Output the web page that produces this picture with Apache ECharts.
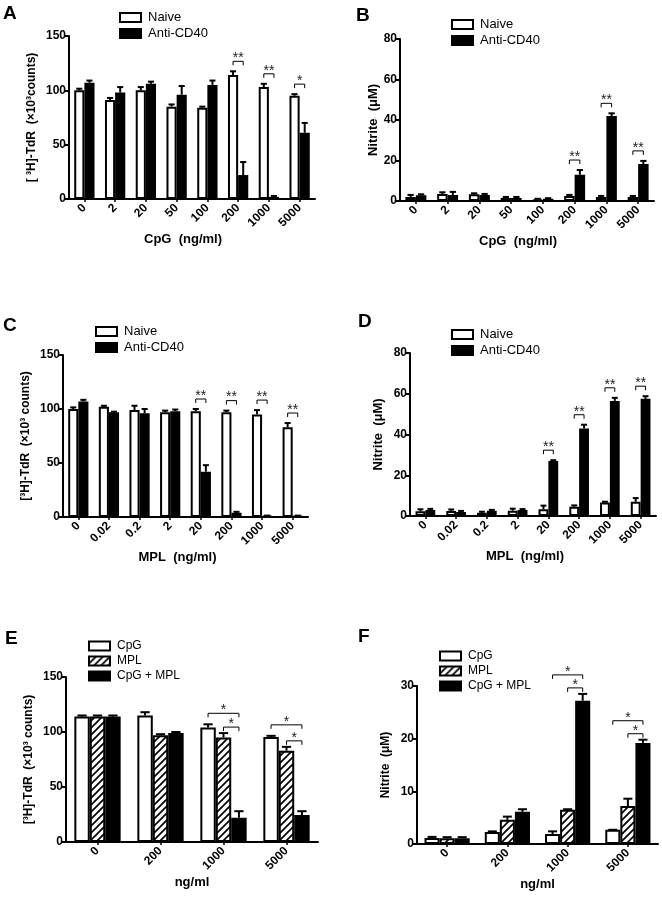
<!DOCTYPE html>
<html><head><meta charset="utf-8">
<script src="https://cdn.jsdelivr.net/npm/echarts@6/dist/echarts.min.js"></script>
<style>html,body{margin:0;padding:0;background:#fff}#c{width:662px;height:900px}</style>
</head><body><div id="c"></div>
<script>
// ---------- data ----------
const catsCpG = ['0','2','20','50','100','200','1000','5000'];
const catsMPL = ['0','0.02','0.2','2','20','200','1000','5000'];
const catsCombo = ['0','200','1000','5000'];

const A_naive    = [100, 91, 100, 85, 84, 114, 103, 95];
const A_naiveErr = [1.5, 2, 3, 2, 1, 3.5, 3, 1.5];
const A_anti     = [107, 98, 106, 96, 105, 22, 2, 61];
const A_antiErr  = [2, 5, 2, 8, 4, 12, 0.8, 9];

const B_naive    = [2, 3.5, 3.3, 1.5, 0.8, 2.5, 2, 2];
const B_naiveErr = [1, 0.8, 0.5, 0.5, 0.3, 0.5, 0.5, 0.5];
const B_anti     = [2.8, 3, 3, 1.5, 1.1, 13, 42, 18.3];
const B_antiErr  = [0.5, 1.5, 0.5, 0.5, 0.3, 2.3, 1.3, 1.5];

const C_naive    = [100, 102, 99, 97, 98, 97, 95, 83];
const C_naiveErr = [1.5, 1, 4, 1.5, 2, 1.5, 4, 4];
const C_anti     = [107, 97, 96, 98, 42, 4, 1, 1];
const C_antiErr  = [1.5, 0.5, 4, 1.5, 6, 0.8, 0.3, 0.3];

const D_naive    = [2.3, 2.4, 1.6, 2.6, 3.3, 4.6, 6.6, 7];
const D_naiveErr = [1, 0.8, 0.5, 1, 1.8, 0.6, 0.4, 1.8];
const D_anti     = [3, 2, 2.6, 3, 27, 43, 56.5, 57.5];
const D_antiErr  = [0.5, 0.5, 0.4, 0.4, 0.4, 1.8, 1.5, 1.3];

const E_cpg      = [114, 115, 104, 95.5];
const E_cpgErr   = [1, 3, 3, 1];
const E_mpl      = [114, 97, 95, 83];
const E_mplErr   = [1, 1, 4, 3.5];
const E_combo    = [114, 99, 22, 24.5];
const E_comboErr = [1, 1, 6, 3.5];

const F_cpg      = [1.15, 2.3, 1.9, 2.7];
const F_cpgErr   = [0.2, 0.1, 0.5, 0];
const F_mpl      = [1.1, 4.6, 6.5, 7.2];
const F_mplErr   = [0.2, 0.6, 0.1, 1.4];
const F_combo    = [1.1, 6.1, 27.2, 19.2];
const F_comboErr = [0.2, 0.5, 1.3, 0.6];

// significance: [category index, from series, to series, text, level]
const A_sig = [[5,0,1,'**',0],[6,0,1,'**',0],[7,0,1,'*',0]];
const B_sig = [[5,0,1,'**',0],[6,0,1,'**',0],[7,0,1,'**',0]];
const C_sig = [[4,0,1,'**',0],[5,0,1,'**',0],[6,0,1,'**',0],[7,0,1,'**',0]];
const D_sig = [[4,0,1,'**',0],[5,0,1,'**',0],[6,0,1,'**',0],[7,0,1,'**',0]];
const E_sig = [[2,0,2,'*',1],[2,1,2,'*',0],[3,0,2,'*',1],[3,1,2,'*',0]];
const F_sig = [[2,0,2,'*',1],[2,1,2,'*',0],[3,0,2,'*',1],[3,1,2,'*',0]];

// ---------- styles ----------
const FONT = '"Liberation Sans", Arial, sans-serif';
function hatchCanvas(){
  const s = 7, c = document.createElement('canvas');
  c.width = s; c.height = s;
  const g = c.getContext('2d');
  g.fillStyle = '#fff'; g.fillRect(0,0,s,s);
  g.strokeStyle = '#000'; g.lineWidth = 1.7; g.lineCap = 'square';
  g.beginPath();
  g.moveTo(-1, s+1); g.lineTo(s+1, -1);
  g.moveTo(-1, 1); g.lineTo(1, -1);
  g.moveTo(s-1, s+1); g.lineTo(s+1, s-1);
  g.stroke();
  return c;
}
const HATCH = {image: hatchCanvas(), repeat: 'repeat'};
const STYLES = {
  white: {color:'#fff', borderColor:'#000', borderWidth:2},
  black: {color:'#000', borderColor:'#000', borderWidth:2},
  hatch: {color: HATCH, borderColor:'#000', borderWidth:2}
};

const panels = [
  {letter:'A', lpos:[3,4], grid:{left:69, top:36, width:246, height:163}, cats:catsCpG, ymax:150, yint:50,
   yname:'[ ³H]-TdR  (×10³counts)', ynameGap:31, ynameSize:12, xname:'CpG  (ng/ml)', xpad:[0,18,0,0],
   series:[['Naive',A_naive,A_naiveErr,'white'],['Anti-CD40',A_anti,A_antiErr,'black']],
   sig:A_sig, gaps:[10,10], legend:[119,11,13], pct:0.33},
  {letter:'B', lpos:[356,6], grid:{left:400, top:39, width:254, height:162}, cats:catsCpG, ymax:80, yint:20,
   yname:'Nitrite  (μM)', ynameGap:20, ynameSize:13, xname:'CpG  (ng/ml)', xpad:[0,18,0,0],
   series:[['Naive',B_naive,B_naiveErr,'white'],['Anti-CD40',B_anti,B_antiErr,'black']],
   sig:B_sig, gaps:[10,10], legend:[451,18,13], pct:0.33},
  {letter:'C', lpos:[3,316], grid:{left:63, top:355, width:245, height:162}, cats:catsMPL, ymax:150, yint:50,
   yname:'[³H]-TdR  (×10³ counts)', ynameGap:31, ynameSize:12, xname:'MPL  (ng/ml)', xpad:[0,16,0,0],
   series:[['Naive',C_naive,C_naiveErr,'white'],['Anti-CD40',C_anti,C_antiErr,'black']],
   sig:C_sig, gaps:[10,10], legend:[95,325,13], pct:0.33},
  {letter:'D', lpos:[358,312], grid:{left:410, top:353, width:246, height:163}, cats:catsMPL, ymax:80, yint:20,
   yname:'Nitrite  (μM)', ynameGap:25, ynameSize:13, xname:'MPL  (ng/ml)', xpad:[0,16,0,0],
   series:[['Naive',D_naive,D_naiveErr,'white'],['Anti-CD40',D_anti,D_antiErr,'black']],
   sig:D_sig, gaps:[10,10], legend:[451,328,13], pct:0.32},
  {letter:'E', lpos:[5,629], grid:{left:66, top:677, width:252, height:165}, cats:catsCombo, ymax:150, yint:50,
   yname:'[³H]-TdR  (×10³ counts)', ynameGap:31, ynameSize:12, xname:'ng/ml', xpad:[0,0,0,0],
   series:[['CpG',E_cpg,E_cpgErr,'white'],['MPL',E_mpl,E_mplErr,'hatch'],['CpG + MPL',E_combo,E_comboErr,'black']],
   sig:E_sig, gaps:[6,11], legend:[88,640,12], pct:0.245},
  {letter:'F', lpos:[358,627], grid:{left:417, top:686, width:241, height:158}, cats:catsCombo, ymax:30, yint:10,
   yname:'Nitrite  (μM)', ynameGap:25, ynameSize:12, xname:'ng/ml', xpad:[0,0,0,0],
   series:[['CpG',F_cpg,F_cpgErr,'white'],['MPL',F_mpl,F_mplErr,'hatch'],['CpG + MPL',F_combo,F_comboErr,'black']],
   sig:F_sig, gaps:[6,11], legend:[439,650,12], pct:0.25}
];

const option = {animation:false, backgroundColor:'#fff', textStyle:{fontFamily:FONT},
  title:[], grid:[], xAxis:[], yAxis:[], legend:[], series:[]};

panels.forEach((p, pi) => {
  option.title.push({text:p.letter, left:p.lpos[0], top:p.lpos[1], padding:0,
    textStyle:{fontFamily:FONT, fontSize:19, fontWeight:'bold', color:'#000'}});
  option.grid.push(Object.assign({containLabel:false}, p.grid));
  option.xAxis.push({type:'category', gridIndex:pi, data:p.cats, boundaryGap:true,
    axisLine:{lineStyle:{color:'#000', width:2}},
    axisTick:{show:true, alignWithLabel:true, length:3, lineStyle:{color:'#000', width:1.5}},
    axisLabel:{rotate:45, interval:0, margin:7, color:'#000', fontWeight:'bold', fontSize:12, fontFamily:FONT},
    name:p.xname, nameLocation:'middle', nameGap:34,
    nameTextStyle:{color:'#000', fontWeight:'bold', fontSize:13, fontFamily:FONT, padding:p.xpad}});
  option.yAxis.push({type:'value', gridIndex:pi, min:0, max:p.ymax, interval:p.yint,
    axisLine:{show:true, lineStyle:{color:'#000', width:2}},
    axisTick:{show:true, length:4, lineStyle:{color:'#000', width:2}},
    splitLine:{show:false},
    axisLabel:{margin:3, color:'#000', fontWeight:'bold', fontSize:12, fontFamily:FONT},
    name:p.yname, nameLocation:'middle', nameGap:p.ynameGap,
    nameTextStyle:{color:'#000', fontWeight:'bold', fontSize:p.ynameSize, fontFamily:FONT}});
  option.legend.push({orient:'vertical', left:p.legend[0], top:p.legend[1], padding:0,
    itemWidth:21, itemHeight:9, itemGap:3, icon:'rect', selectedMode:false,
    textStyle:{fontSize:p.legend[2], color:'#000', fontFamily:FONT, padding:[0,0,0,2]},
    data:p.series.map(s => ({name:s[0], itemStyle:STYLES[s[3]]}))});

  const n = p.series.length, pct = p.pct;
  p.series.forEach((s, si) => {
    option.series.push({type:'bar', name:s[0], xAxisIndex:pi, yAxisIndex:pi,
      data:s[1], barWidth:(pct*100)+'%', barGap:'0%', itemStyle:STYLES[s[3]], z:2});
  });
  // error bars
  const errData = [];
  p.series.forEach((s, si) => s[1].forEach((v, ci) => errData.push([ci, si, v, s[2][ci]])));
  option.series.push({type:'custom', xAxisIndex:pi, yAxisIndex:pi, z:5, clip:false, silent:true,
    encode:{x:0, y:2}, data:errData,
    renderItem:(params, api) => {
      const ci = api.value(0), si = api.value(1), v = api.value(2), e = api.value(3);
      const band = api.size([1,0])[0], bw = band*pct;
      const cx = api.coord([ci,0])[0] - n*bw/2 + bw*(si+0.5);
      const y0 = api.coord([ci,v])[1], y1 = api.coord([ci,v+e])[1];
      const cap = bw*0.6;
      return {type:'group', children:[
        {type:'line', shape:{x1:cx, y1:y0, x2:cx, y2:y1}, style:{stroke:'#000', lineWidth:2}},
        {type:'line', shape:{x1:cx-cap/2, y1:y1, x2:cx+cap/2, y2:y1}, style:{stroke:'#000', lineWidth:2}}
      ]};
    }});
  // significance brackets
  const topOf = (ci, a, b) => { let m = 0; for (let k=a; k<=b; k++) m = Math.max(m, p.series[k][1][ci] + p.series[k][2][ci]); return m; };
  const sigData = p.sig.map(g => {
    const own = topOf(g[0], g[1], g[2]);
    const inner = p.sig.find(h => h[0]===g[0] && h[4]===0);
    return [g[0], own, inner ? topOf(inner[0], inner[1], inner[2]) : own];
  });
  option.series.push({type:'custom', xAxisIndex:pi, yAxisIndex:pi, z:6, clip:false, silent:true,
    encode:{x:0, y:1}, data:sigData,
    renderItem:(params, api) => {
      const g = p.sig[params.dataIndex];
      const ci = api.value(0), own = api.value(1), inn = api.value(2);
      const band = api.size([1,0])[0], bw = band*pct;
      const base = api.coord([ci,0])[0] - n*bw/2;
      const x1 = base + bw*(g[1]+0.5), x2 = base + bw*(g[2]+0.5);
      let y;
      if (g[4] === 0) y = api.coord([ci,own])[1] - p.gaps[0];
      else y = Math.min(api.coord([ci,own])[1] - p.gaps[1], api.coord([ci,inn])[1] - p.gaps[0] - 13);
      return {type:'group', children:[
        {type:'polyline', shape:{points:[[x1,y+4],[x1,y],[x2,y],[x2,y+4]]}, style:{stroke:'#000', lineWidth:1, fill:null}},
        {type:'text', x:(x1+x2)/2, y:y+4, style:{text:g[3], align:'center', verticalAlign:'bottom',
          fontSize:14, fontFamily:FONT, fill:'#222'}}
      ]};
    }});
});

const chart = echarts.init(document.getElementById('c'));
chart.setOption(option);
</script>
</body></html>
